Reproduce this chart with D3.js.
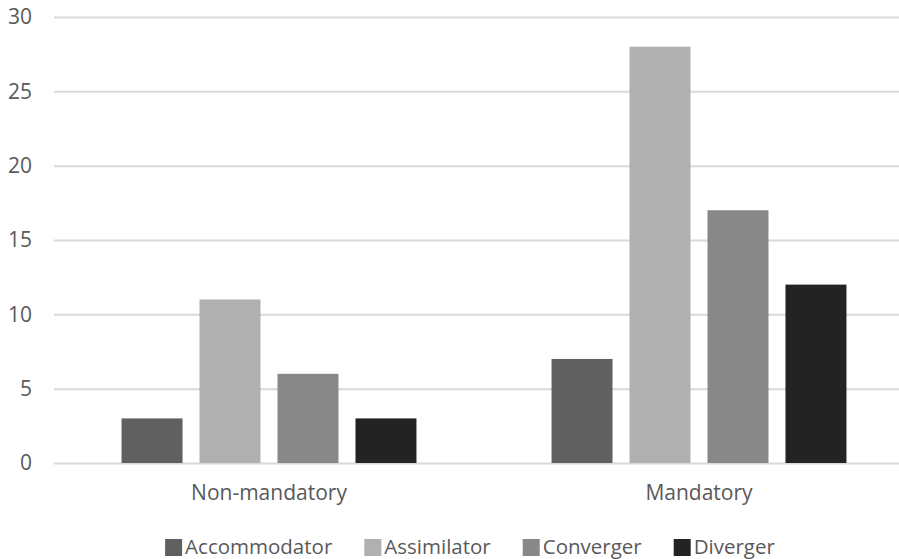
<!DOCTYPE html>
<html>
<head>
<meta charset="utf-8">
<script src="https://cdn.jsdelivr.net/npm/d3@7"></script>
<style>
  html, body { margin: 0; padding: 0; background: #fff; }
  svg { display: block; font-family: "Open Sans", sans-serif; }
</style>
</head>
<body>
<svg id="chart" width="899" height="559"></svg>
<script>
// Learning styles by course type
const categories = ["Non-mandatory", "Mandatory"];
const seriesNames = ["Accommodator", "Assimilator", "Converger", "Diverger"];
const accommodator = [3, 7];
const assimilator = [11, 28];
const converger = [6, 17];
const diverger = [3, 12];
const seriesValues = [accommodator, assimilator, converger, diverger];
const yTicks = [0, 5, 10, 15, 20, 25, 30];
const colors = ["#606060", "#b0b0b0", "#888888", "#232323"];

const svg = d3.select("#chart");
const textColor = "#595959";
const fontSize = 21;

const y = d3.scaleLinear().domain([0, 30]).range([463, 17]);
const x0 = d3.scaleBand().domain(categories).range([54, 914]).paddingInner(0).paddingOuter(0);
const x1 = d3.scaleBand().domain(seriesNames).range([0, x0.bandwidth()])
  .paddingInner(0.218).paddingOuter(0.866);
const color = d3.scaleOrdinal().domain(seriesNames).range(colors);

// Horizontal gridlines with value labels
const yAxis = svg.append("g")
  .attr("transform", "translate(54,0)")
  .call(d3.axisLeft(y).tickValues(yTicks).tickSize(-860).tickPadding(22));
yAxis.select(".domain").remove();
yAxis.selectAll(".tick line").attr("stroke", "#d9d9d9").attr("stroke-width", 2);
yAxis.selectAll(".tick text")
  .attr("fill", textColor).attr("font-size", fontSize)
  .attr("font-family", "'Open Sans', sans-serif");

// Bars
const rows = categories.map((c, i) => ({
  category: c,
  values: seriesNames.map((s, j) => ({ series: s, value: seriesValues[j][i] }))
}));

svg.append("g").selectAll("g")
  .data(rows)
  .join("g")
  .attr("transform", d => `translate(${x0(d.category)},0)`)
  .selectAll("rect")
  .data(d => d.values)
  .join("rect")
  .attr("x", d => x1(d.series))
  .attr("width", x1.bandwidth())
  .attr("y", d => y(d.value))
  .attr("height", d => y(0) - y(d.value))
  .attr("fill", d => color(d.series));

// Category labels
const xAxis = svg.append("g")
  .attr("transform", `translate(0,${y(0)})`)
  .call(d3.axisBottom(x0).tickSize(0).tickPadding(22));
xAxis.select(".domain").remove();
xAxis.selectAll(".tick text")
  .attr("fill", textColor).attr("font-size", fontSize)
  .attr("font-family", "'Open Sans', sans-serif");

// Legend
const legend = svg.append("g");
const items = legend.selectAll("g")
  .data(seriesNames)
  .join("g");
items.append("rect")
  .attr("width", 17).attr("height", 17)
  .attr("y", 539)
  .attr("fill", d => color(d));
items.append("text")
  .attr("x", 20).attr("y", 554)
  .attr("fill", textColor).attr("font-size", 20.5)
  .text(d => d);

const gap = 32;
const widths = items.nodes().map(n =>
  20 + d3.select(n).select("text").node().getComputedTextLength());
const total = d3.sum(widths) + gap * (widths.length - 1);
const start = 470 - total / 2;
let offset = 0;
items.attr("transform", (d, i) => {
  const t = `translate(${start + offset},0)`;
  offset += widths[i] + gap;
  return t;
});
</script>
</body>
</html>
